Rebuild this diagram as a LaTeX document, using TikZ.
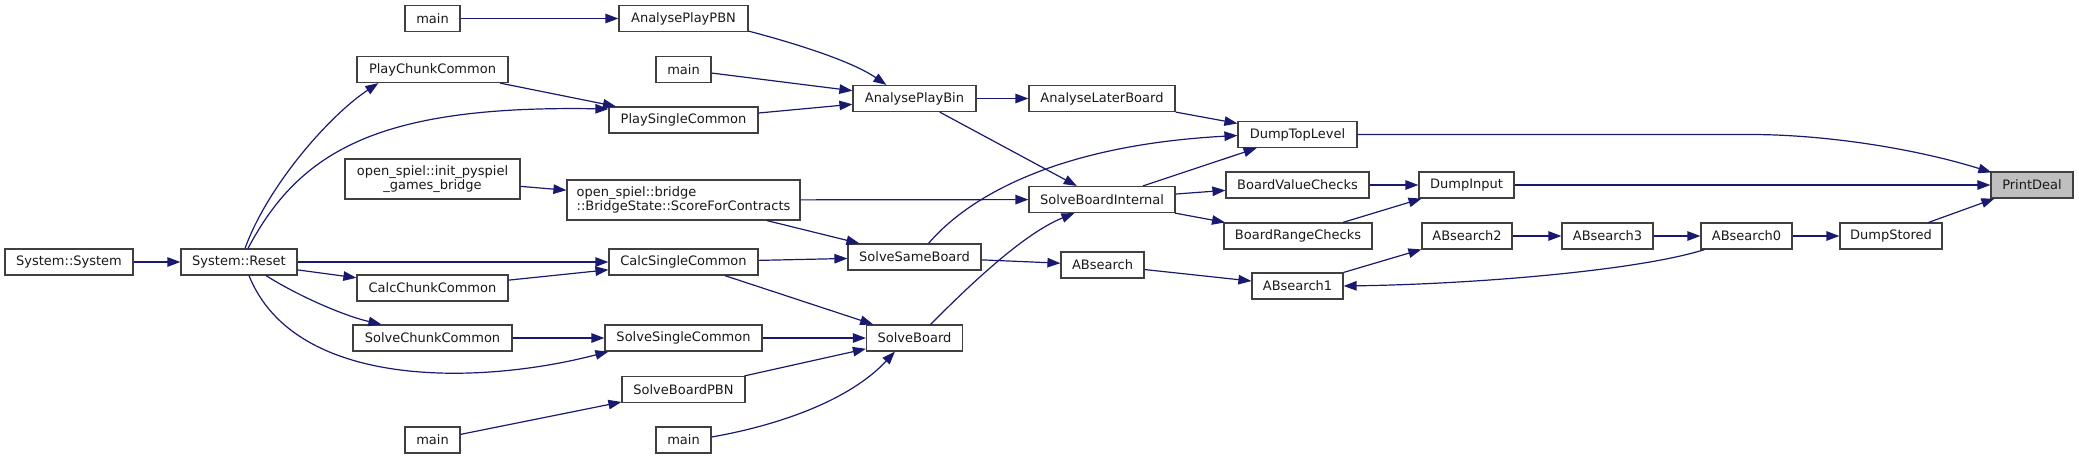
\documentclass[tikz,border=0pt]{standalone}
\usepackage{fontspec}
\setmainfont{DejaVu Sans}
\usetikzlibrary{arrows.meta,calc}
\definecolor{edgeblue}{HTML}{191970}
\definecolor{boxline}{HTML}{404040}
\definecolor{hlfill}{HTML}{BFBFBF}
\begin{document}
\begin{tikzpicture}[x=1pt,y=-1pt,
  fn/.style={draw=boxline, line width=1.2pt, fill=white, inner sep=0pt,
    minimum height=26pt, font=\fontsize{13}{14.5}\selectfont, text=black!90},
  cl/.style={draw=edgeblue, line width=1.2pt, -{Triangle[length=13pt,width=9.5pt]}},
]
\useasboundingbox (0,0) rectangle (2079,459);

% nodes
\node[fn, minimum width=82pt, fill=hlfill] (pd) at (2032,185) {PrintDeal};
\node[fn, minimum width=119pt] (dtl) at (1297.5,134.5) {DumpTopLevel};
\node[fn, minimum width=95pt] (dinput) at (1466.5,185) {DumpInput};
\node[fn, minimum width=102pt] (dstored) at (1891,236) {DumpStored};
\node[fn, minimum width=91pt] (ab0) at (1746.5,236) {ABsearch0};
\node[fn, minimum width=91pt] (ab3) at (1607.5,236) {ABsearch3};
\node[fn, minimum width=90pt] (ab2) at (1467,236) {ABsearch2};
\node[fn, minimum width=91pt] (ab1) at (1297.5,286) {ABsearch1};
\node[fn, minimum width=143pt] (bvc) at (1297.5,185) {BoardValueChecks};
\node[fn, minimum width=148pt] (brc) at (1298,236) {BoardRangeChecks};
\node[fn, minimum width=146pt] (alb) at (1102,98.5) {AnalyseLaterBoard};
\node[fn, minimum width=146pt] (sbi) at (1102,199.5) {SolveBoardInternal};
\node[fn, minimum width=83pt] (ab) at (1102.5,265) {ABsearch};
\node[fn, minimum width=123pt] (apbin) at (914.5,98.5) {AnalysePlayBin};
\node[fn, minimum width=133pt] (ssb) at (914.5,257) {SolveSameBoard};
\node[fn, minimum width=96pt] (sb) at (914.5,338) {SolveBoard};
\node[fn, minimum width=129pt] (apbn) at (683.5,18.5) {AnalysePlayPBN};
\node[fn, minimum width=55pt] (mainA) at (683.5,69.5) {main};
\node[fn, minimum width=149pt] (psc) at (683.5,120) {PlaySingleCommon};
\node[fn, minimum width=233pt, minimum height=40pt, align=left] (sfc) at (683.5,200)
  {open\_spiel::bridge\\::BridgeState::ScoreForContracts};
\node[fn, minimum width=149pt] (csc) at (683.5,262) {CalcSingleCommon};
\node[fn, minimum width=157pt] (ssc) at (683.5,338) {SolveSingleCommon};
\node[fn, minimum width=123pt] (sbpbn) at (683.5,389.5) {SolveBoardPBN};
\node[fn, minimum width=55pt] (mainB2) at (683.5,440) {main};
\node[fn, minimum width=55pt] (mainT) at (432.5,18.5) {main};
\node[fn, minimum width=151pt] (pcc) at (432.5,69.5) {PlayChunkCommon};
\node[fn, minimum width=175pt, minimum height=40pt, align=center] (initpy) at (432.5,179)
  {open\_spiel::init\_pyspiel\\\_games\_bridge};
\node[fn, minimum width=151pt] (cchunk) at (432.5,288) {CalcChunkCommon};
\node[fn, minimum width=159pt] (schunk) at (432.5,338) {SolveChunkCommon};
\node[fn, minimum width=55pt] (mainB1) at (432.5,440) {main};
\node[fn, minimum width=116pt] (reset) at (239,262) {System::Reset};
\node[fn, minimum width=128pt] (sys) at (69,262) {System::System};

% straight edges
\draw[cl] (dinput) -- (pd);
\draw[cl] (dstored) -- (pd);
\draw[cl] (ab0) -- (dstored);
\draw[cl] (ab3) -- (ab0);
\draw[cl] (ab2) -- (ab3);
\draw[cl] (ab1) -- (ab2);
\draw[cl] (bvc) -- (dinput);
\draw[cl] (brc) -- (dinput);
\draw[cl] (alb) -- (dtl);
\draw[cl] (sbi) -- (dtl);
\draw[cl] (sbi) -- (bvc);
\draw[cl] (sbi) -- (brc);
\draw[cl] (ab) -- (ab1);
\draw[cl] (apbin) -- (alb);
\draw[cl] (apbin) -- (sbi);
\draw[cl] (sfc) -- (sbi);
\draw[cl] (ssb) -- (ab);
\draw[cl] (mainA) -- (apbin);
\draw[cl] (psc) -- (apbin);
\draw[cl] (sfc) -- (ssb);
\draw[cl] (csc) -- (ssb);
\draw[cl] (csc) -- (sb);
\draw[cl] (ssc) -- (sb);
\draw[cl] (sbpbn) -- (sb);
\draw[cl] (mainT) -- (apbn);
\draw[cl] (pcc) -- (psc);
\draw[cl] (initpy) -- (sfc);
\draw[cl] (cchunk) -- (csc);
\draw[cl] (schunk) -- (ssc);
\draw[cl] (mainB1) -- (sbpbn);
\draw[cl] (sys) -- (reset);
\draw[cl] (reset) -- (csc);
\draw[cl] (reset) -- (cchunk);

% curved edges
\draw[cl] (dtl.east) -- (1750,134.5) .. controls (1830,134.5) and (1920,150) .. ($(pd.north west)+(1,1)$);
\draw[cl] ($(ab0.south west)+(4,0)$) .. controls (1640,270) and (1480,284) .. (ab1.east);
\draw[cl] ($(ssb.north)+(14,0)$) .. controls (970,195) and (1060,145) .. ($(dtl.west)+(0,1)$);
\draw[cl] ($(sb.north)+(16,0)$) .. controls (960,295) and (1020,235) .. ($(sbi.south west)+(46,0)$);
\draw[cl] ($(apbn.south east)+(0,-1)$) .. controls (790,42) and (850,60) .. ($(apbin.north west)+(34,0)$);
\draw[cl] ($(mainB2.east)+(0,-3)$) .. controls (780,425) and (850,400) .. ($(sb.south west)+(29,0)$);
\draw[cl] ($(reset.north)+(6,0)$) .. controls (268,185) and (330,115) .. ($(pcc.south west)+(22,0)$);
\draw[cl] ($(reset.north)+(9,0)$) .. controls (300,150) and (380,105) .. ($(psc.west)+(0,-11)$);
\draw[cl] ($(reset.south)+(10,0)$) .. controls (295,390) and (480,385) .. ($(ssc.south west)+(4,0)$);
\draw[cl] ($(reset.south)+(27,0)$) .. controls (300,297) and (345,316) .. ($(schunk.north west)+(29,0)$);
\end{tikzpicture}
\end{document}
